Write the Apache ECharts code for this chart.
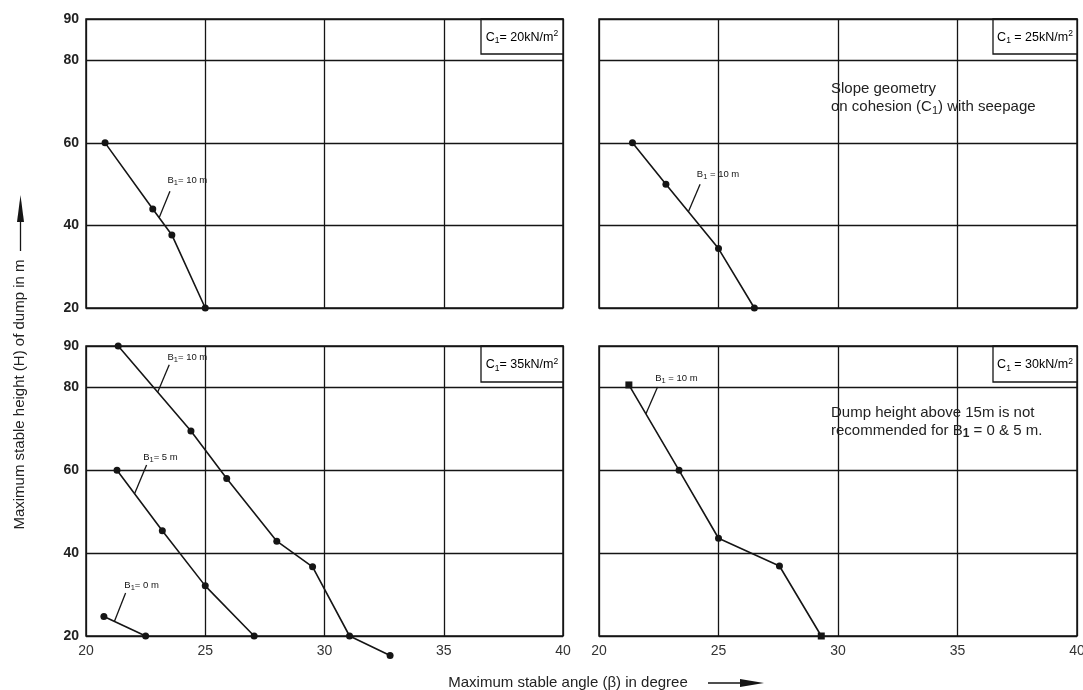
<!DOCTYPE html>
<html><head><meta charset="utf-8">
<script src="https://cdn.jsdelivr.net/npm/echarts@6/dist/echarts.min.js"></script>
<style>html,body{margin:0;padding:0;background:#fff}#c{width:1083px;height:690px}</style>
</head><body><div id="c"></div>
<script>
// Axis ticks
const xTicks = [20, 25, 30, 35, 40];
const yTicks = [20, 40, 60, 80, 90];
// Cohesion value of each panel (top-left, top-right, bottom-left, bottom-right)
const panelCohesion = ['20', '25', '35', '30'];

// C1 = 20 kN/m2, B1 = 10 m
const c20_b10_angle  = [20.8, 22.8, 23.6, 25.0];
const c20_b10_height = [60, 44, 37.7, 20];
// C1 = 25 kN/m2, B1 = 10 m
const c25_b10_angle  = [21.4, 22.8, 25.0, 26.5];
const c25_b10_height = [60, 50, 34.4, 20];
// C1 = 35 kN/m2
const c35_b10_angle  = [21.35, 24.4, 25.9, 28.0, 29.5, 31.05, 32.75];
const c35_b10_height = [90, 69.5, 58, 42.9, 36.7, 20, 15.3];
const c35_b5_angle   = [21.3, 23.2, 25.0, 27.05];
const c35_b5_height  = [60, 45.4, 32.1, 20];
const c35_b0_angle   = [20.75, 22.5];
const c35_b0_height  = [24.7, 20];
// C1 = 30 kN/m2, B1 = 10 m
const c30_b10_angle  = [21.25, 23.35, 25.0, 27.55, 29.3];
const c30_b10_height = [80.6, 60, 43.6, 36.9, 20];

const FONT = '"Liberation Sans", Arial, sans-serif';
const INK = '#151515';

const grids = [
  {left: 86, top: 19, width: 477, height: 289},
  {left: 599, top: 19, width: 478, height: 289},
  {left: 86, top: 346, width: 477, height: 290},
  {left: 599, top: 346, width: 478, height: 290}
].map(g => Object.assign(g, {show: true, borderColor: INK, borderWidth: 1.5, backgroundColor: 'transparent', outerBoundsMode: 'none'}));

const xAxes = grids.map((g, i) => ({
  type: 'value', gridIndex: i, min: xTicks[0], max: xTicks[xTicks.length - 1], interval: xTicks[1] - xTicks[0],
  axisLine: {show: false}, axisTick: {show: false},
  splitLine: {show: true, lineStyle: {color: INK, width: 1.3}},
  axisLabel: {show: i >= 2, color: '#333', fontSize: 14, fontFamily: FONT, margin: 8}
}));
const yAxes = grids.map((g, i) => ({
  type: 'value', gridIndex: i, min: yTicks[0], max: yTicks[yTicks.length - 1], interval: yTicks[1] - yTicks[0],
  axisLine: {show: false}, axisTick: {show: false},
  splitLine: {show: true, lineStyle: {color: INK, width: 1.3}},
  axisLabel: {show: i % 2 === 0, color: '#222', fontSize: 14, fontWeight: 'bold', fontFamily: FONT, margin: 7}
}));

const richB = {
  b: {fontSize: 9.5, lineHeight: 13, color: INK, fontFamily: FONT},
  s: {fontSize: 7.5, lineHeight: 7, verticalAlign: 'bottom', color: INK, fontFamily: FONT}
};
function tag(text, at, from, to) {
  return {
    markLine: {
      silent: true, animation: false, symbol: ['none', 'none'],
      lineStyle: {color: INK, width: 1.3, type: 'solid'}, label: {show: false},
      emphasis: {disabled: true},
      data: [[{coord: from}, {coord: to}]]
    },
    markPoint: {
      silent: true, animation: false, symbol: 'circle', symbolSize: 0,
      data: [{coord: at, label: {show: true, position: 'inside', formatter: text, rich: richB}}]
    }
  };
}
function line(xs, ys, gi, extra) {
  return Object.assign({
    type: 'line', xAxisIndex: gi, yAxisIndex: gi,
    data: xs.map((x, k) => [x, ys[k]]),
    symbol: 'circle', symbolSize: 7, clip: false, animation: false,
    itemStyle: {color: INK}, lineStyle: {color: INK, width: 1.6}, z: 5,
    emphasis: {disabled: true}
  }, extra || {});
}

const series = [
  line(c20_b10_angle, c20_b10_height, 0, tag('{b|B}{s|1}{b|= 10 m}', [24.25, 50.8], [23.52, 48.3], [23.07, 41.9])),
  line(c25_b10_angle, c25_b10_height, 1, tag('{b|B}{s|1}{b| = 10 m}', [24.98, 52.4], [24.23, 50.0], [23.74, 43.3])),
  line(c35_b10_angle, c35_b10_height, 2, tag('{b|B}{s|1}{b|= 10 m}', [24.25, 87.2], [23.49, 85.5], [23.0, 78.8])),
  line(c35_b5_angle, c35_b5_height, 2, tag('{b|B}{s|1}{b|= 5 m}', [23.12, 63.2], [22.54, 61.3], [22.04, 54.4])),
  line(c35_b0_angle, c35_b0_height, 2, tag('{b|B}{s|1}{b|= 0 m}', [22.33, 32.3], [21.66, 30.4], [21.19, 23.5])),
  line(c30_b10_angle, c30_b10_height, 3, Object.assign({
    symbol: (v, p) => (p.dataIndex === 0 || p.dataIndex === c30_b10_angle.length - 1) ? 'rect' : 'circle'
  }, tag('{b|B}{s|1}{b| = 10 m}', [23.24, 82.1], [22.45, 80.1], [21.96, 73.6])))
];

const boxRich = {
  n: {fontSize: 12.5, lineHeight: 16, color: INK, fontFamily: FONT},
  s: {fontSize: 8.5, lineHeight: 8, verticalAlign: 'bottom', color: INK, fontFamily: FONT},
  p: {fontSize: 8.5, lineHeight: 8, verticalAlign: 'top', color: INK, fontFamily: FONT}
};
function c1Box(g, val, h, w) {
  const x = g.left + g.width - w, y = g.top;
  return {
    type: 'group', z: 20, children: [
      {type: 'rect', shape: {x: x, y: y, width: w, height: h}, style: {fill: '#fff', stroke: INK, lineWidth: 1.3}},
      {type: 'text', x: x + w / 2, y: y + h / 2 + 1,
       style: {text: '{n|C}{s|1}{n|' + (val === '20' || val === '35' ? '= ' : ' = ') + val + 'kN/m}{p|2}', rich: boxRich,
               align: 'center', verticalAlign: 'middle'}}
    ]
  };
}

const graphic = [
  c1Box(grids[0], panelCohesion[0], 35, 82),
  c1Box(grids[1], panelCohesion[1], 35, 84),
  c1Box(grids[2], panelCohesion[2], 36, 82),
  c1Box(grids[3], panelCohesion[3], 36, 84),
  {type: 'text', z: 20, x: 831, y: 80,
   style: {text: 'Slope geometry\n{t|on cohesion (C}{s|1}{t|) with seepage}', fill: '#222', font: '15px ' + FONT, lineHeight: 18,
           rich: {t: {fontSize: 15, lineHeight: 18, fontFamily: FONT, color: '#222'},
                  s: {fontSize: 11, lineHeight: 11, verticalAlign: 'bottom', fontFamily: FONT, color: '#222'}}}},
  {type: 'text', z: 20, x: 831, y: 404,
   style: {text: 'Dump height above 15m is not\n{t|recommended for B}{s|1}{t| = 0 & 5 m.}', fill: '#222', font: '15px ' + FONT, lineHeight: 18,
           rich: {t: {fontSize: 15, lineHeight: 18, fontFamily: FONT, color: '#222'},
                  s: {fontSize: 12, lineHeight: 12, verticalAlign: 'bottom', fontWeight: 'bold', fontFamily: FONT, color: '#222'}}}},
  // y axis title + arrow
  {type: 'text', z: 20, x: 20, y: 394.5, rotation: Math.PI / 2,
   style: {text: 'Maximum stable height (H) of dump in m', fill: '#222', font: '15px ' + FONT, align: 'center', verticalAlign: 'middle'}},
  {type: 'line', z: 20, shape: {x1: 20.5, y1: 251, x2: 20.5, y2: 215}, style: {stroke: INK, lineWidth: 1.3}},
  {type: 'polygon', z: 20, shape: {points: [[20.5, 195], [17, 222], [24, 222]]}, style: {fill: INK}},
  // x axis title + arrow
  {type: 'text', z: 20, x: 568, y: 683,
   style: {text: 'Maximum stable angle (\u03b2) in degree', fill: '#222', font: '15px ' + FONT, align: 'center', verticalAlign: 'middle'}},
  {type: 'line', z: 20, shape: {x1: 708, y1: 683, x2: 748, y2: 683}, style: {stroke: INK, lineWidth: 1.3}},
  {type: 'polygon', z: 20, shape: {points: [[764, 683], [740, 679], [740, 687]]}, style: {fill: INK}}
];

const chart = echarts.init(document.getElementById('c'), null, {renderer: 'canvas'});
chart.setOption({
  animation: false,
  backgroundColor: '#fff',
  grid: grids, xAxis: xAxes, yAxis: yAxes, series: series, graphic: graphic
});
</script>
</body></html>
